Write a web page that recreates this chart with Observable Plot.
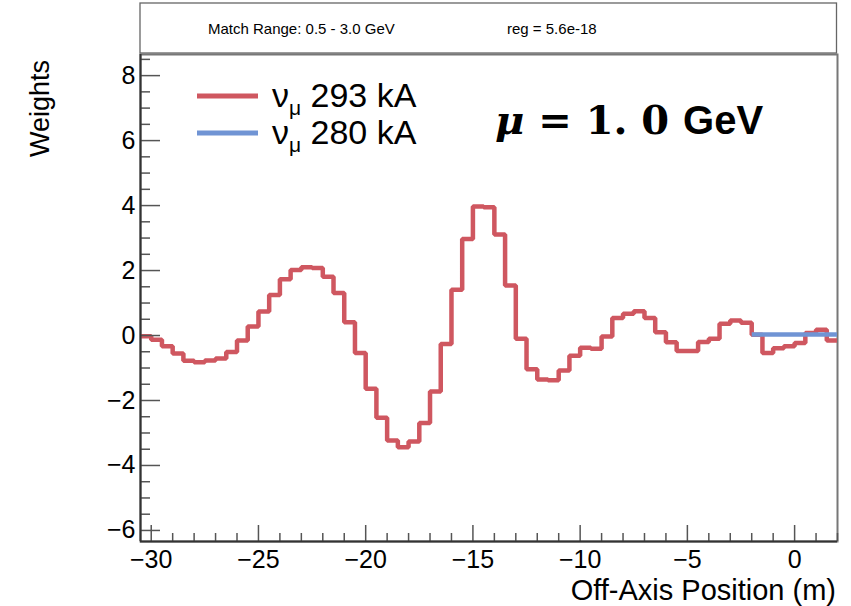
<!DOCTYPE html>
<html><head><meta charset="utf-8">
<script src="https://cdn.jsdelivr.net/npm/d3@7"></script>
<script src="https://cdn.jsdelivr.net/npm/@observablehq/plot@0.6"></script>
<style>body{margin:0;background:#fff} svg{display:block}</style>
</head><body><div id="chart"></div>
<script>
// Histogram binning (0.5 m bins)
const binLow293 = -30.5;
const binWidth = 0.5;
const weights293 = [
  -0.02, -0.13, -0.33, -0.55, -0.78, -0.82, -0.77, -0.71, -0.51, -0.15,
   0.28,  0.74,  1.25,  1.73,  2.02,  2.10,  2.08,  1.81,  1.31,  0.41,
  -0.54, -1.64, -2.53, -3.23, -3.44, -3.26, -2.69, -1.72, -0.26,  1.41,
   2.97,  3.97,  3.95,  3.11,  1.54, -0.10, -1.04, -1.35, -1.38, -1.08,
  -0.62, -0.38, -0.41, -0.03,  0.54,  0.67,  0.75,  0.54,  0.10, -0.21,
  -0.48, -0.48, -0.20, -0.10,  0.36,  0.46,  0.39,  0.02, -0.54, -0.39,
  -0.33, -0.23,  0.08,  0.18, -0.15
];
const binLow280 = -2.0;
const weights280 = [0.03, 0.03, 0.03, 0.03, 0.03, 0.03, 0.03, 0.03];

const xDomain = [-30.5, 2.0];
const yDomain = [-6.34, 8.65];
const xMajorTicks = [-30, -25, -20, -15, -10, -5, 0];
const yMajorTicks = [-6, -4, -2, 0, 2, 4, 6, 8];
const xMinorTicks = d3.range(-30, 2.01, 1).filter(v => v % 5 !== 0);
const yMinorTicks = d3.range(-6, 8.51, 0.5).filter(v => v % 2 !== 0);

const seriesNames = ["293 kA", "280 kA"];
const colors = ["#cf5760", "#7094d4"];
const titleLeft = "Match Range: 0.5 - 3.0 GeV";
const titleRight = "reg = 5.6e-18";
const xLabel = "Off-Axis Position (m)";
const yLabel = "Weights";

function stepPoints(low, values) {
  const pts = values.map((v, i) => ({x: low + i * binWidth, y: v}));
  pts.push({x: low + values.length * binWidth, y: values[values.length - 1]});
  return pts;
}

const font = "'Liberation Sans', Arial, Helvetica, sans-serif";
const tickColor = "#555";

const chart = Plot.plot({
  width: 851, height: 606,
  marginLeft: 140, marginRight: 14, marginTop: 54, marginBottom: 65,
  style: {fontFamily: font, background: "#fff", color: "#000"},
  x: {domain: xDomain},
  y: {domain: yDomain},
  marks: [
    Plot.frame({stroke: "#777", strokeWidth: 2}),
    Plot.line(stepPoints(binLow293, weights293), {x: "x", y: "y", curve: "step-after", stroke: colors[0], strokeWidth: 4.5, strokeLinecap: "butt", strokeLinejoin: "miter", clip: true}),
    Plot.line(stepPoints(binLow280, weights280), {x: "x", y: "y", curve: "step-after", stroke: colors[1], strokeWidth: 4.5, strokeLinecap: "butt", clip: true}),
    Plot.axisX(xMajorTicks, {tickSize: -16, tickFormat: () => "", stroke: tickColor, strokeWidth: 1.5, label: null}),
    Plot.axisX(xMinorTicks, {tickSize: -8, tickFormat: () => "", stroke: tickColor, strokeWidth: 1.5, label: null}),
    Plot.axisX(xMajorTicks, {tickSize: 0, tickPadding: 9, fontSize: 25, label: null}),
    Plot.axisY(yMajorTicks, {tickSize: -20, tickFormat: () => "", stroke: tickColor, strokeWidth: 1.5, label: null}),
    Plot.axisY(yMinorTicks, {tickSize: -10, tickFormat: () => "", stroke: tickColor, strokeWidth: 1.5, label: null}),
    Plot.axisY(yMajorTicks, {tickSize: 0, tickPadding: 5, fontSize: 25, label: null}),
    Plot.ruleY([yDomain[0]], {stroke: "#333", strokeWidth: 2}),
    Plot.ruleX([xDomain[0]], {stroke: "#333", strokeWidth: 2})
  ]
});
document.getElementById("chart").appendChild(chart);

const svg = d3.select(chart);
const g = svg.append("g").attr("text-anchor", "start");
// Title box
g.append("rect").attr("x", 140).attr("y", 3).attr("width", 696.5).attr("height", 50)
  .attr("fill", "#fff").attr("stroke", "#666").attr("stroke-width", 1.3);
g.append("text").attr("x", 208).attr("y", 34).attr("font-family", font).attr("font-size", 15).text(titleLeft);
g.append("text").attr("x", 507).attr("y", 34).attr("font-family", font).attr("font-size", 15).text(titleRight);

// Axis titles
g.append("text").attr("transform", "translate(49,60) rotate(-90)").attr("text-anchor", "end")
  .attr("font-family", font).attr("font-size", 27).text(yLabel);
g.append("text").attr("x", 836).attr("y", 600).attr("text-anchor", "end")
  .attr("font-family", font).attr("font-size", 29).text(xLabel);

// Legend
const legendY = [96, 133];
seriesNames.forEach((name, i) => {
  g.append("line").attr("x1", 197).attr("x2", 258).attr("y1", legendY[i]).attr("y2", legendY[i])
    .attr("stroke", colors[i]).attr("stroke-width", 5);
  const t = g.append("text").attr("x", 272).attr("y", legendY[i] + 11)
    .attr("font-family", font).attr("font-size", 34);
  t.append("tspan").text("ν");
  t.append("tspan").attr("font-size", 21).attr("dy", 8).text("μ");
  t.append("tspan").attr("dy", -8).text(" " + name);
});

// Annotation
const ann = g.append("text").attr("x", 495).attr("y", 134).attr("font-size", 40).attr("font-weight", "bold");
ann.append("tspan").attr("font-family", "'DejaVu Serif', serif").attr("font-style", "italic").text("μ");
ann.append("tspan").attr("font-family", "'DejaVu Serif', serif").text(" = 1. 0 ");
ann.append("tspan").attr("font-family", font).text("GeV");
</script>
</body></html>
